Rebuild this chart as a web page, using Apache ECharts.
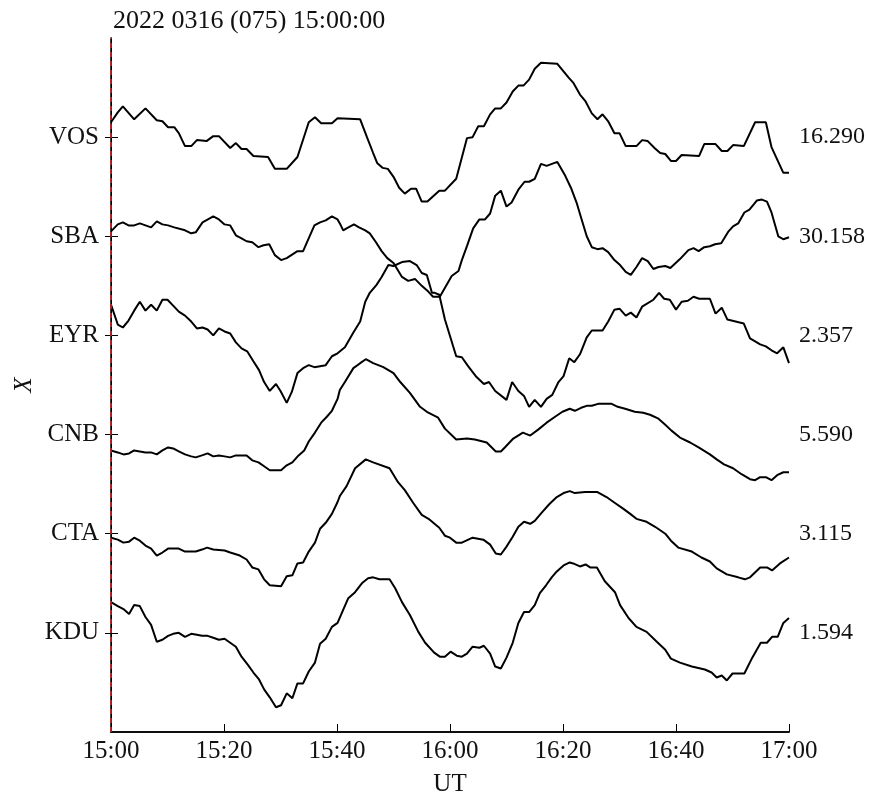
<!DOCTYPE html>
<html>
<head>
<meta charset="utf-8">
<script src="https://cdn.jsdelivr.net/npm/echarts@6/dist/echarts.min.js"></script>
<style>
html,body{margin:0;padding:0;background:#fff;}
#chart{width:876px;height:797px;}
</style>
</head>
<body>
<div id="chart"></div>
<script>
// Time axis: minutes after 15:00 UT
const TICK_LABELS = ['15:00','15:20','15:40','16:00','16:20','16:40','17:00'];
const STATIONS = ['VOS','SBA','EYR','CNB','CTA','KDU'];
const SCALES = ['16.290','30.158','2.357','5.590','3.115','1.594'];
const TITLE = '2022 0316 (075) 15:00:00';

// Each trace: [minute, deflection in hundredths of a trace spacing]
const VOS = [[0,15],[1.2,25],[2.1,31],[4.1,18],[6.1,29],[8.1,17],[9.1,16],[10.1,10],[11.2,10],[12.0,4],[13.1,-9],[14.2,-9],[15.2,-3],[16.9,-4],[18.1,1],[19.1,1],[21.1,-11],[22.1,-6],[23.1,-12],[24.0,-12],[25.2,-19],[27.8,-20],[29.0,-32],[31.1,-32],[33.0,-20],[35.0,15],[36.1,20],[37.2,14],[39.1,14],[40.1,19],[44.1,18],[45.3,0],[46.4,-16],[47.1,-26],[48.1,-31],[49.0,-32],[50.0,-40],[51.0,-51],[52.0,-57],[53.1,-52],[54.0,-52],[55.0,-65],[56.0,-65],[58.1,-54],[59.1,-54],[61.1,-42],[63.0,-1],[64.0,0],[65.0,11],[66.0,11],[67.1,23],[68.0,29],[69.0,29],[70.0,35],[71.1,46],[72.1,52],[73.0,52],[74.0,58],[75.0,69],[76.1,75],[79.0,74],[81.0,60],[81.8,55],[83.0,43],[84.0,36],[85.1,24],[86.1,18],[87.0,23],[88.0,16],[89.1,4],[90.0,4],[91.1,-9],[93.0,-9],[94.0,-3],[95.0,-4],[96.2,-11],[97.2,-16],[98.1,-17],[99.1,-24],[100.0,-24],[101.0,-18],[104.1,-19],[105.0,-7],[107.0,-7],[108.1,-14],[109.1,-14],[110.1,-8],[112.0,-9],[114.0,15],[115.9,15],[116.9,-10],[119.0,-36],[120,-36]];
const SBA = [[0,5],[1.2,12],[2.1,14],[3.1,11],[4.1,11],[5.1,13],[7.1,9],[8.1,15],[9.1,12],[10.1,11],[11.2,9],[13.1,6],[14.2,3],[15.0,4],[16.2,14],[18.1,20],[19.1,17],[20.1,12],[21.1,11],[22.1,1],[23.1,-2],[24.0,-5],[25.0,-6],[26.1,-11],[27.0,-9],[28.0,-8],[29.0,-19],[30.1,-24],[31.1,-22],[33.0,-15],[34.0,-15],[36.0,11],[37.0,14],[38.0,16],[39.1,20],[40.1,17],[40.5,13],[41.1,6],[41.7,8],[43.0,12],[43.9,9],[45.0,6],[45.8,3],[46.9,-6],[47.9,-15],[48.9,-22],[50.0,-27],[51.5,-41],[52.6,-45],[53.8,-43],[55.0,-50],[56.2,-56],[57.0,-61],[58.2,-61],[60.3,-40],[61.5,-35],[62.1,-24],[63.0,-10],[64.1,8],[65.2,17],[66.2,17],[67.1,23],[68.0,41],[69.0,46],[70.0,30],[70.9,34],[72.1,47],[73.2,55],[74.0,55],[75.0,58],[76.1,73],[77.1,71],[79.0,75],[80.4,61],[81.4,49],[82.4,34],[83.3,17],[84.2,0],[85.1,-11],[86.1,-13],[87.0,-12],[88.0,-16],[89.1,-24],[90.1,-29],[91.1,-36],[92.0,-39],[93.0,-31],[94.0,-22],[95.0,-25],[96.0,-33],[96.9,-31],[98.1,-30],[99.0,-32],[100.7,-23],[102.2,-14],[103.1,-12],[104.0,-15],[105.0,-11],[106.0,-10],[106.9,-8],[108.0,-7],[109.3,5],[110.1,10],[111.0,13],[112.1,24],[113.0,27],[114.3,36],[115.2,37],[116.1,35],[116.9,24],[118.1,0],[119.0,-3],[120,-1]];
const EYR = [[0,31],[1.2,11],[2.1,8],[3.1,15],[4.1,25],[5.1,34],[6.1,25],[7.1,31],[8.1,25],[9.1,36],[10.0,36],[11.0,30],[12.0,24],[13.1,20],[14.2,14],[15.2,7],[16.2,8],[17.1,6],[18.1,0],[19.1,7],[20.1,4],[21.1,2],[22.1,-7],[23.1,-13],[24.1,-16],[25.2,-26],[26.2,-35],[27.1,-47],[28.1,-56],[29.2,-49],[30.0,-56],[31.1,-68],[32.0,-57],[33.0,-38],[34.0,-33],[35.0,-30],[36.0,-32],[37.0,-31],[38.0,-30],[39.1,-21],[40.1,-18],[41.4,-12],[42.9,3],[44.1,14],[45.0,34],[45.8,43],[47.0,51],[47.9,59],[49.1,71],[50.0,70],[51.5,74],[52.9,75],[54.1,71],[55.0,63],[55.9,61],[56.8,43],[57.3,43],[58.1,41],[59.1,16],[61.1,-21],[62.1,-22],[63.2,-31],[64.7,-42],[66.0,-49],[66.9,-47],[68.0,-56],[70.0,-65],[71.0,-47],[72.1,-56],[73.1,-61],[74.0,-72],[75.0,-65],[76.1,-72],[77.1,-64],[78.1,-60],[79.2,-47],[80.1,-41],[81.1,-23],[82.0,-27],[83.0,-19],[84.2,-2],[85.1,5],[87.0,5],[88.0,14],[89.1,26],[90.0,27],[91.1,20],[92.0,23],[93.0,18],[94.0,29],[96.0,36],[97.0,43],[97.9,37],[98.9,36],[100.0,26],[101.0,34],[102.1,35],[103.1,39],[104.1,37],[106.0,37],[107.0,22],[108.1,28],[109.1,16],[112.0,12],[113.1,-3],[114.9,-9],[115.9,-11],[116.9,-15],[117.9,-18],[119.0,-12],[120,-28]];
const CNB = [[0,-16],[1.2,-18],[2.2,-20],[3.2,-19],[4.1,-16],[5.1,-17],[6.1,-18],[7.1,-18],[8.1,-20],[9.1,-16],[10.1,-13],[11.0,-14],[12.0,-17],[13.1,-20],[14.2,-22],[15.0,-23],[16.1,-21],[17.1,-19],[18.1,-22],[19.1,-21],[20.1,-22],[21.1,-23],[22.1,-21],[24.0,-21],[25.0,-26],[26.1,-28],[27.1,-32],[28.1,-36],[30.1,-36],[31.1,-31],[32.1,-28],[33.2,-21],[34.2,-16],[35.0,-7],[36.1,2],[37.2,12],[38.2,18],[39.1,24],[40.1,36],[40.5,45],[41.4,53],[42.9,67],[44.1,72],[45.1,76],[46.4,72],[48.2,68],[50.0,62],[51.2,53],[52.9,42],[54.7,28],[55.9,23],[57.9,17],[59.1,6],[61.1,-5],[63.0,-4],[64.4,-5],[66.5,-8],[68.1,-17],[69.0,-17],[69.7,-13],[71.2,-4],[72.9,2],[74.2,-1],[75.6,5],[77.1,12],[78.6,18],[79.9,23],[81.2,26],[82.1,24],[83.2,27],[84.2,29],[85.1,29],[86.2,31],[88.6,31],[89.7,28],[91.0,26],[92.7,23],[94.2,22],[95.4,20],[96.9,16],[98.1,10],[99.2,4],[100.7,-3],[102.5,-8],[104.0,-13],[106.0,-20],[107.2,-25],[108.5,-30],[110.1,-34],[111.6,-40],[113.1,-45],[114.0,-46],[114.9,-43],[115.9,-43],[116.9,-46],[117.9,-41],[119.0,-38],[120,-38]];
const CTA = [[0,-4],[1.2,-6],[2.2,-9],[3.2,-8],[4.1,-4],[5.1,-7],[6.1,-12],[7.1,-15],[8.1,-22],[9.1,-19],[10.1,-15],[12.0,-15],[13.1,-18],[15.0,-18],[16.1,-16],[17.0,-14],[18.1,-16],[20.1,-17],[21.1,-19],[22.8,-22],[24.0,-26],[25.0,-34],[26.1,-36],[27.1,-46],[28.1,-52],[30.1,-53],[31.1,-43],[32.1,-42],[33.0,-30],[34.0,-29],[35.0,-18],[36.1,-9],[37.0,5],[38.0,11],[39.1,20],[40.1,32],[40.5,38],[41.7,48],[43.2,66],[45.1,75],[46.4,72],[49.3,66],[50.8,52],[52.0,44],[53.5,31],[55.0,19],[56.2,15],[58.1,6],[59.1,-2],[60.0,-4],[61.1,-9],[62.1,-9],[64.0,-4],[65.9,-6],[67.1,-11],[68.1,-20],[69.0,-21],[70.0,-13],[71.1,-3],[72.1,7],[73.1,12],[74.2,10],[75.0,13],[76.2,21],[77.6,30],[78.9,37],[80.1,41],[81.2,43],[82.1,41],[83.9,42],[86.1,42],[87.7,37],[89.2,31],[90.7,25],[91.9,20],[93.0,15],[94.8,12],[96.3,7],[98.1,0],[99.1,-7],[100.4,-14],[102.8,-18],[104.5,-24],[106.0,-28],[107.2,-35],[109.0,-41],[111.0,-44],[112.2,-46],[113.1,-44],[114.9,-34],[116.1,-34],[117.0,-37],[118.4,-30],[120,-24]];
const KDU = [[0,31],[1.2,27],[2.2,24],[3.2,19],[4.1,28],[5.1,27],[6.1,16],[7.1,8],[8.1,-9],[9.1,-7],[10.1,-3],[11.0,-1],[12.0,0],[13.1,-4],[14.2,-1],[15.2,-2],[16.1,-3],[17.1,-3],[18.1,-5],[19.1,-7],[20.1,-6],[21.1,-10],[22.1,-14],[23.1,-24],[24.2,-32],[25.2,-40],[26.2,-47],[27.1,-57],[28.1,-65],[29.2,-75],[30.1,-73],[31.1,-61],[32.1,-66],[33.0,-51],[34.0,-51],[35.0,-39],[36.1,-30],[37.0,-11],[38.0,-6],[39.1,6],[40.1,10],[41.3,26],[42.0,35],[43.2,41],[44.4,50],[45.5,55],[46.4,56],[47.5,54],[49.3,54],[50.3,45],[51.5,31],[52.9,18],[54.4,1],[55.6,-10],[57.2,-20],[58.2,-24],[59.1,-24],[60.1,-19],[61.2,-23],[62.1,-24],[63.0,-21],[64.0,-14],[65.2,-15],[66.0,-13],[67.1,-21],[68.0,-34],[69.0,-36],[70.0,-25],[71.1,-10],[72.1,10],[73.1,21],[74.0,21],[75.0,28],[75.9,40],[77.0,48],[78.0,56],[78.9,62],[80.1,68],[81.2,71],[81.8,70],[83.0,67],[84.0,69],[84.8,66],[86.0,66],[87.4,52],[89.2,41],[90.1,28],[91.6,15],[93.0,6],[94.8,1],[96.6,-9],[98.1,-17],[99.1,-26],[100.7,-30],[102.8,-34],[105.1,-37],[106.3,-40],[107.2,-45],[108.1,-43],[109.0,-48],[110.0,-41],[112.1,-41],[113.5,-25],[115.0,-10],[116.1,-10],[117.0,-4],[118.0,-4],[119.0,10],[120,15]];

const TRACES = [VOS, SBA, EYR, CNB, CTA, KDU];
const N = STATIONS.length;
const FONT = 'Liberation Serif';

const series = TRACES.map((tr, i) => {
  const base = N - i;
  return {
    type: 'line',
    name: STATIONS[i],
    xAxisIndex: 0,
    yAxisIndex: 0,
    showSymbol: false,
    symbol: 'none',
    silent: true,
    animation: false,
    lineStyle: { color: '#000', width: 2 },
    data: tr.map(p => [p[0], base + p[1] / 100])
  };
});
series.push({
  type: 'line', data: [], xAxisIndex: 0, yAxisIndex: 0, animation: false,
  markLine: {
    silent: true, symbol: 'none', animation: false,
    label: { show: false },
    lineStyle: { color: '#e0202a', type: [5, 4], width: 1.5 },
    data: [{ xAxis: 0 }]
  }
});

const stationTicks = STATIONS.map((_, i) => N - i);

const chart = echarts.init(document.getElementById('chart'), null, { renderer: 'canvas' });
chart.setOption({
  animation: false,
  backgroundColor: '#fff',
  title: {
    text: TITLE, left: 108, top: 3,
    textStyle: { fontFamily: FONT, fontSize: 26, fontWeight: 'normal', color: '#111' }
  },
  grid: { left: 111, right: 87, top: 38, bottom: 65, containLabel: false, outerBoundsMode: 'none' },
  xAxis: [{
    type: 'value', min: 0, max: 120, interval: 20,
    name: 'UT', nameLocation: 'middle', nameGap: 40,
    nameTextStyle: { fontFamily: FONT, fontSize: 25, color: '#111' },
    axisLine: { show: true, lineStyle: { color: '#000', width: 1.5 } },
    axisTick: { show: true, inside: true, length: 8, lineStyle: { color: '#000', width: 1 } },
    axisLabel: {
      fontFamily: FONT, fontSize: 25, color: '#111', margin: 7,
      formatter: v => TICK_LABELS[Math.round(v / 20)]
    },
    splitLine: { show: false }
  }, {
    type: 'value', min: 0, max: 120, position: 'top',
    axisLine: { show: true, lineStyle: { color: '#000', width: 1.5 } },
    axisTick: { show: false }, axisLabel: { show: false }, splitLine: { show: false }
  }],
  yAxis: [{
    type: 'value', min: 0, max: 7, interval: 1, position: 'left',
    name: 'X', nameLocation: 'middle', nameGap: 74, nameMoveOverlap: false,
    nameTextStyle: { fontFamily: FONT, fontSize: 25, fontStyle: 'italic', color: '#111' },
    axisLine: { show: true, lineStyle: { color: '#000', width: 1 } },
    axisTick: { show: true, inside: false, length: 6, customValues: stationTicks, lineStyle: { color: '#000', width: 1 } },
    axisLabel: {
      fontFamily: FONT, fontSize: 25, color: '#111', margin: 12,
      customValues: stationTicks,
      formatter: v => (v >= 1 && v <= N) ? STATIONS[N - v] : ''
    },
    splitLine: { show: false }
  }, {
    type: 'value', min: 0, max: 7, interval: 1, position: 'right',
    axisLine: { show: true, lineStyle: { color: '#000', width: 1.5 } },
    axisTick: { show: true, inside: false, length: 7, customValues: stationTicks, lineStyle: { color: '#000', width: 1 } },
    axisLabel: {
      fontFamily: FONT, fontSize: 24, color: '#111', margin: 10,
      customValues: stationTicks,
      formatter: v => (v >= 1 && v <= N) ? SCALES[N - v] : ''
    },
    splitLine: { show: false }
  }, {
    type: 'value', min: 0, max: 7, interval: 1, position: 'left',
    axisLine: { show: false },
    axisTick: { show: true, inside: true, length: 7, customValues: stationTicks, lineStyle: { color: '#000', width: 1 } },
    axisLabel: { show: false }, splitLine: { show: false }
  }],
  series: series
});
</script>
</body>
</html>
